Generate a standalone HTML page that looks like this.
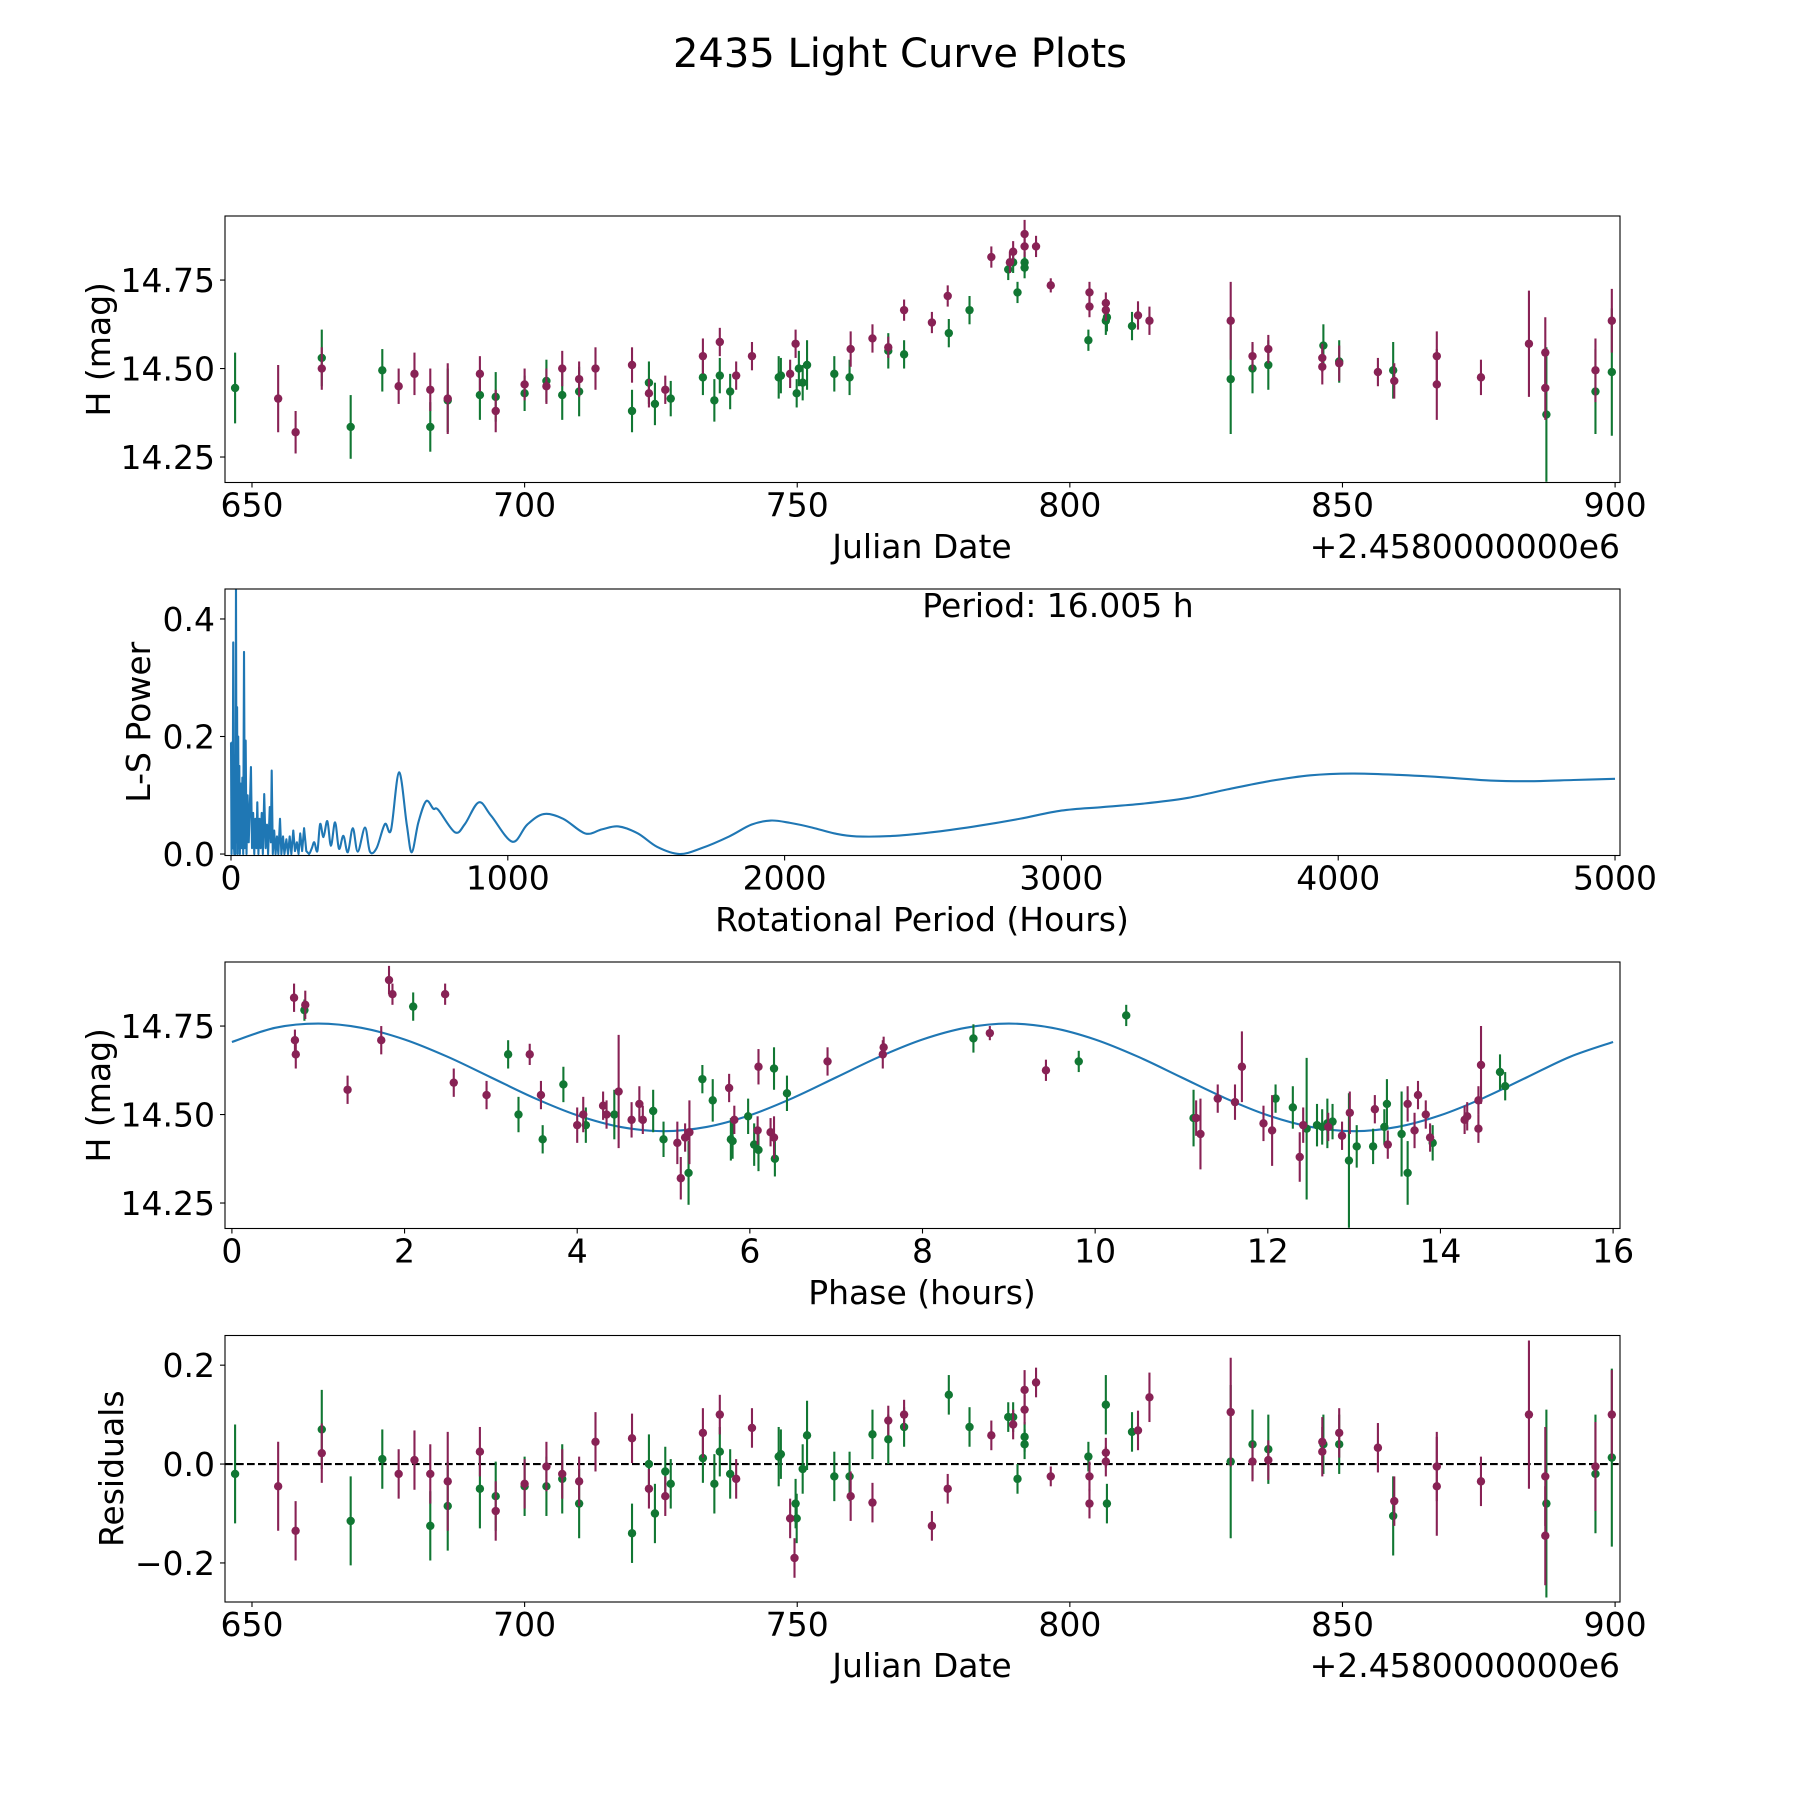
<!DOCTYPE html>
<html><head><meta charset="utf-8"><title>2435 Light Curve Plots</title>
<style>
html,body{margin:0;padding:0;background:#fff;}
svg{display:block;font-family:"DejaVu Sans","Liberation Sans",sans-serif;}
</style></head>
<body>
<svg id="fig" width="1800" height="1800" viewBox="0 0 1800 1800" xmlns="http://www.w3.org/2000/svg">
<rect width="1800" height="1800" fill="#fff"/>
<text x="900" y="67" font-size="40" text-anchor="middle">2435 Light Curve Plots</text>
<g id="p1"></g>
<g id="p2"></g>
<g id="p3"></g>
<g id="p4"></g>
</svg>
<script>
// ---- Panel 1: light curve (Julian date offset, H mag, error) ----
const lcGreenJD = [646.9,662.8,668.1,673.9,682.7,685.9,691.8,694.7,700.0,704.0,706.9,710.0,719.7,722.8,723.9,726.8,732.7,734.8,735.8,737.7,746.6,747.0,749.9,750.3,751.0,751.8,756.8,759.6,766.7,769.6,777.8,781.6,788.7,789.6,790.4,791.7,791.7,803.4,806.6,806.8,811.4,829.5,833.5,836.4,846.5,849.4,859.3,887.4,896.4,899.4];
const lcGreenMag = [14.445,14.53,14.335,14.495,14.335,14.41,14.425,14.42,14.43,14.465,14.425,14.435,14.38,14.46,14.40,14.415,14.475,14.41,14.48,14.435,14.475,14.48,14.43,14.50,14.46,14.51,14.485,14.475,14.55,14.54,14.60,14.665,14.78,14.80,14.715,14.80,14.785,14.58,14.635,14.645,14.62,14.47,14.50,14.51,14.565,14.52,14.495,14.37,14.435,14.49];
const lcGreenErr = [0.1,0.08,0.09,0.06,0.07,0.09,0.07,0.07,0.05,0.06,0.07,0.07,0.06,0.06,0.06,0.05,0.05,0.06,0.05,0.05,0.06,0.05,0.04,0.05,0.05,0.07,0.05,0.05,0.05,0.04,0.04,0.04,0.03,0.03,0.03,0.03,0.03,0.03,0.04,0.04,0.04,0.155,0.07,0.07,0.06,0.06,0.08,0.19,0.12,0.18];
const lcMagJD = [654.8,658.0,662.8,676.9,679.8,682.7,685.9,691.8,694.7,700.0,704.0,706.9,710.0,713.0,719.7,722.8,725.8,732.7,735.8,738.8,741.7,748.7,749.7,759.8,763.8,766.7,769.6,774.7,777.6,785.6,789.0,789.6,791.7,791.7,793.8,796.5,803.6,803.6,806.6,806.6,812.5,814.6,829.5,833.5,836.4,846.3,846.3,849.4,856.5,859.5,867.3,867.3,875.4,884.2,887.2,887.2,896.4,899.4];
const lcMagMag = [14.415,14.32,14.50,14.45,14.485,14.44,14.415,14.485,14.38,14.455,14.45,14.50,14.47,14.50,14.51,14.43,14.44,14.535,14.575,14.48,14.535,14.485,14.57,14.555,14.585,14.56,14.665,14.63,14.705,14.815,14.80,14.83,14.88,14.845,14.845,14.735,14.715,14.675,14.685,14.665,14.65,14.635,14.635,14.535,14.555,14.53,14.505,14.515,14.49,14.465,14.535,14.455,14.475,14.57,14.545,14.445,14.495,14.635];
const lcMagErr = [0.095,0.06,0.06,0.05,0.06,0.06,0.1,0.05,0.06,0.045,0.05,0.05,0.05,0.06,0.05,0.04,0.04,0.05,0.04,0.04,0.04,0.04,0.04,0.05,0.04,0.03,0.03,0.03,0.03,0.03,0.03,0.03,0.04,0.03,0.03,0.02,0.03,0.03,0.03,0.03,0.04,0.04,0.11,0.04,0.04,0.04,0.05,0.05,0.04,0.05,0.07,0.1,0.05,0.15,0.1,0.09,0.09,0.09];
const jdTicks = [650,700,750,800,850,900];
const magTicks = [14.25,14.50,14.75];
const magTickLabels = ["14.25","14.50","14.75"];

// ---- Panel 2: Lomb-Scargle periodogram ----
const lsPeriod = [0,2,4,6,8,10,12,14,16,18,20,22,24,26,28,30,32,35,38,41,44,47,50,53,56,60,64,68,72,76,80,84,88,92,95,99,103,107,111,115,120,125,130,134,140,144,147,151,156,161,166,171,177,182,188,193,200,206,212,218,225,231,238,244,250,257,264,272,282,292,301,312,322,334,348,361,376,390,406,422,440,458,484,502,526,556,578,607,635,653,677,705,731,749,809,845,895,940,1016,1070,1130,1200,1280,1340,1400,1470,1540,1620,1700,1800,1880,1950,2020,2100,2180,2260,2400,2550,2700,2850,3000,3150,3300,3450,3600,3750,3900,4050,4200,4400,4550,4700,4850,5000];
const lsPower = [0.19,0.0,0.19,0.01,0.36,0.02,0.0,0.1,0.0,0.46,0.02,0.25,0.0,0.2,0.01,0.15,0.0,0.12,0.01,0.13,0.0,0.344,0.01,0.193,0.0,0.1,0.02,0.08,0.148,0.01,0.07,0.0,0.06,0.01,0.088,0.0,0.06,0.01,0.07,0.0,0.102,0.01,0.05,0.0,0.08,0.02,0.142,0.0,0.04,0.0,0.03,0.0,0.06,0.0,0.03,0.0,0.025,0.0,0.03,0.0,0.04,0.005,0.02,0.0,0.035,0.005,0.044,0.005,0.0,0.01,0.02,0.005,0.051,0.029,0.056,0.014,0.054,0.009,0.031,0.003,0.044,0.004,0.045,0.004,0.01,0.051,0.041,0.139,0.05,0.003,0.054,0.09,0.077,0.075,0.037,0.051,0.088,0.065,0.021,0.05,0.068,0.06,0.035,0.042,0.047,0.035,0.012,0.0,0.01,0.03,0.05,0.057,0.053,0.045,0.035,0.03,0.031,0.038,0.048,0.06,0.074,0.08,0.086,0.095,0.11,0.124,0.134,0.137,0.135,0.13,0.125,0.124,0.126,0.128,0.133,0.136];
const lsXTicks = [0,1000,2000,3000,4000,5000];
const lsYTicks = [0.0,0.2,0.4];
const lsYTickLabels = ["0.0","0.2","0.4"];

// ---- Panel 3: phased light curve ----
const phGreenX = [0.84,2.1,3.2,3.32,3.6,3.84,4.1,4.43,4.88,5.0,5.29,5.45,5.57,5.78,5.8,5.98,6.05,6.1,6.28,6.29,6.43,8.59,9.81,10.36,11.14,12.09,12.29,12.45,12.57,12.63,12.69,12.75,12.94,13.03,13.22,13.35,13.38,13.55,13.62,13.91,14.69,14.75];
const phGreenMag = [14.795,14.805,14.67,14.5,14.43,14.585,14.47,14.5,14.51,14.43,14.335,14.6,14.54,14.43,14.425,14.495,14.415,14.40,14.63,14.375,14.56,14.715,14.65,14.78,14.49,14.545,14.52,14.46,14.47,14.465,14.475,14.48,14.37,14.41,14.41,14.465,14.53,14.445,14.335,14.42,14.62,14.58];
const phGreenErr = [0.03,0.04,0.04,0.05,0.04,0.05,0.05,0.07,0.06,0.05,0.09,0.04,0.06,0.06,0.05,0.05,0.06,0.06,0.06,0.05,0.05,0.04,0.03,0.03,0.08,0.04,0.06,0.2,0.06,0.05,0.07,0.05,0.19,0.06,0.05,0.05,0.07,0.12,0.09,0.05,0.05,0.04];
const phMagX = [0.72,0.73,0.74,0.85,1.34,1.73,1.82,1.86,2.47,2.57,2.95,3.45,3.58,4.0,4.07,4.3,4.34,4.48,4.63,4.72,4.76,5.16,5.2,5.25,5.3,5.76,5.82,6.1,6.09,6.24,6.28,6.9,7.54,7.55,8.78,9.43,11.17,11.22,11.42,11.62,11.7,11.95,12.05,12.37,12.41,12.7,12.86,12.95,13.24,13.39,13.62,13.7,13.74,13.83,13.88,14.28,14.31,14.44,14.44,14.47];
const phMagMag = [14.83,14.71,14.67,14.81,14.57,14.71,14.88,14.84,14.84,14.59,14.555,14.67,14.555,14.47,14.50,14.525,14.50,14.565,14.485,14.53,14.485,14.42,14.32,14.435,14.45,14.575,14.485,14.635,14.455,14.45,14.435,14.65,14.67,14.69,14.73,14.625,14.49,14.445,14.545,14.535,14.635,14.475,14.455,14.38,14.47,14.465,14.44,14.505,14.515,14.415,14.53,14.455,14.555,14.5,14.435,14.485,14.495,14.46,14.54,14.64];
const phMagErr = [0.04,0.03,0.04,0.04,0.04,0.04,0.04,0.03,0.03,0.04,0.04,0.03,0.04,0.05,0.05,0.04,0.04,0.16,0.05,0.05,0.04,0.06,0.06,0.04,0.09,0.04,0.04,0.05,0.04,0.04,0.06,0.04,0.04,0.03,0.02,0.03,0.05,0.1,0.04,0.05,0.1,0.05,0.1,0.07,0.05,0.04,0.04,0.06,0.04,0.04,0.05,0.05,0.04,0.04,0.04,0.04,0.04,0.04,0.04,0.11];
const modelPhase = [0,0.5,1,1.5,2,2.5,3,3.5,4,4.5,5,5.5,6,6.5,7,7.5,8,8.5,9,9.5,10,10.5,11,11.5,12,12.5,13,13.5,14,14.5,15,15.5,16];
const modelMag = [14.705,14.745,14.757,14.745,14.712,14.663,14.605,14.547,14.498,14.465,14.453,14.465,14.498,14.547,14.605,14.663,14.712,14.745,14.757,14.745,14.712,14.663,14.605,14.547,14.498,14.465,14.453,14.465,14.498,14.547,14.605,14.663,14.705];
const phTicks = [0,2,4,6,8,10,12,14,16];

// ---- Panel 4: residuals ----
const resGreenJD = [646.9,662.8,668.1,673.9,682.7,685.9,691.8,694.7,700.0,704.0,706.9,710.0,719.7,722.8,723.9,725.8,726.8,732.7,734.8,735.8,737.7,746.6,747.0,749.7,749.9,751.0,751.8,756.8,759.6,763.8,766.7,769.6,777.8,781.6,788.7,789.6,790.4,791.7,791.7,803.4,806.6,806.8,811.4,829.5,833.5,836.4,846.5,849.4,859.3,887.4,896.4,899.4];
const resGreenVal = [-0.02,0.07,-0.115,0.01,-0.125,-0.085,-0.05,-0.065,-0.045,-0.045,-0.03,-0.08,-0.14,0.0,-0.1,-0.015,-0.04,0.012,-0.04,0.025,-0.02,0.015,0.02,-0.08,-0.11,-0.01,0.058,-0.025,-0.025,0.06,0.05,0.075,0.14,0.075,0.095,0.095,-0.03,0.055,0.04,0.015,0.12,-0.08,0.065,0.005,0.04,0.03,0.04,0.04,-0.105,-0.08,-0.02,0.013];
const resGreenErr = [0.1,0.08,0.09,0.06,0.07,0.09,0.08,0.07,0.06,0.06,0.07,0.07,0.06,0.06,0.06,0.05,0.05,0.05,0.06,0.05,0.05,0.06,0.05,0.05,0.05,0.05,0.07,0.05,0.05,0.05,0.05,0.04,0.04,0.04,0.03,0.03,0.03,0.03,0.03,0.03,0.06,0.04,0.04,0.155,0.07,0.07,0.06,0.06,0.08,0.19,0.12,0.18];
const resMagJD = [654.8,658.0,662.8,676.9,679.8,682.7,685.9,691.8,694.7,700.0,704.0,706.9,710.0,713.0,719.7,722.8,725.8,732.7,735.8,738.8,741.7,748.7,749.5,759.8,763.8,766.7,769.6,774.7,777.6,785.6,789.6,791.7,791.7,793.8,796.5,803.6,803.6,806.6,806.6,812.5,814.6,829.5,833.5,836.4,846.3,846.3,849.4,856.5,859.5,867.3,867.3,875.4,884.2,887.2,887.2,896.4,899.4];
const resMagVal = [-0.045,-0.135,0.022,-0.02,0.008,-0.02,-0.035,0.025,-0.095,-0.04,-0.005,-0.02,-0.035,0.045,0.052,-0.05,-0.065,0.063,0.1,-0.03,0.073,-0.11,-0.19,-0.065,-0.078,0.088,0.1,-0.125,-0.05,0.058,0.08,0.15,0.11,0.165,-0.025,-0.08,-0.025,0.023,0.005,0.068,0.135,0.105,0.005,0.008,0.045,0.025,0.063,0.033,-0.075,-0.005,-0.045,-0.035,0.1,-0.145,-0.025,-0.005,0.1];
const resMagErr = [0.09,0.06,0.06,0.05,0.06,0.06,0.1,0.05,0.06,0.05,0.05,0.05,0.05,0.06,0.05,0.04,0.04,0.05,0.04,0.04,0.04,0.04,0.04,0.05,0.04,0.03,0.03,0.03,0.03,0.03,0.03,0.04,0.03,0.03,0.02,0.03,0.03,0.03,0.03,0.04,0.05,0.11,0.04,0.04,0.05,0.05,0.05,0.05,0.05,0.07,0.1,0.05,0.15,0.1,0.1,0.09,0.09];
const resTicks = [-0.2,0.0,0.2];
const resTickLabels = ["\u22120.2","0.0","0.2"];

const NS = "http://www.w3.org/2000/svg";
const GREEN = "#117733", MAG = "#882255", BLUE = "#1f77b4";
const L = 225, R = 1620, H = 266.5;

function mk(tag, attrs, parent){
  const e = document.createElementNS(NS, tag);
  for (const k in attrs) e.setAttribute(k, attrs[k]);
  parent.appendChild(e);
  return e;
}
function scale(d0,d1,r0,r1){ return v => r0 + (v-d0)/(d1-d0)*(r1-r0); }

function axes(g, top, xlim, ylim){
  const sx = scale(xlim[0], xlim[1], L, R);
  const sy = scale(ylim[0], ylim[1], top+H, top);
  return {sx, sy, top, bottom: top+H};
}
function frame(g, ax){
  const r = mk('rect', {x:L, y:ax.top, width:R-L, height:H, fill:'none', stroke:'#000', 'stroke-width':1.1}, g);
  
  
}
function xTicks(g, ax, vals, labels){
  const grp = mk('g', {}, g);
  
  
  vals.forEach((v,i) => {
    const x = ax.sx(v);
    mk('line', {x1:x, x2:x, y1:ax.bottom, y2:ax.bottom+5, stroke:'#000', 'stroke-width':1.1}, grp);
    const t = mk('text', {x:x, y:ax.bottom+34, 'font-size':33, 'text-anchor':'middle'}, grp);
    
    
    t.textContent = labels ? labels[i] : String(v);
  });
}
function yTicks(g, ax, vals, labels){
  const grp = mk('g', {}, g);
  
  
  vals.forEach((v,i) => {
    const y = ax.sy(v);
    mk('line', {x1:L-5, x2:L, y1:y, y2:y, stroke:'#000', 'stroke-width':1.1}, grp);
    const t = mk('text', {x:L-10, y:y+12, 'font-size':33, 'text-anchor':'end'}, grp);
    
    
    t.textContent = labels[i];
  });
}
function label(g, txt, x, y, rot, name, anchor){
  const t = mk('text', {x:x, y:y, 'font-size':33, 'text-anchor':anchor||'middle'}, g);
  if (rot) t.setAttribute('transform', 'rotate(-90 '+x+' '+y+')');
  
  
  t.textContent = txt;
}
function errPoints(g, ax, xs, ys, es, color, name){
  const grp = mk('g', {}, g);
  
  
  xs.forEach((xv,i) => {
    const x = ax.sx(xv);
    const ln = mk('line', {x1:x, x2:x, y1:ax.sy(ys[i]-es[i]), y2:ax.sy(ys[i]+es[i]), stroke:color, 'stroke-width':2.1}, grp);
    
    
    const c = mk('circle', {cx:x, cy:ax.sy(ys[i]), r:4.2, fill:color}, grp);
    
    
  });
}
function clip(id, ax){
  const cp = mk('clipPath', {id:id}, document.getElementById('fig'));
  mk('rect', {x:L, y:ax.top, width:R-L, height:H}, cp);
  return 'url(#'+id+')';
}
function crSeg(pts, i){
  const p0 = pts[Math.max(0,i-1)], p1 = pts[i], p2 = pts[i+1], p3 = pts[Math.min(pts.length-1,i+2)];
  const c1x = p1[0]+(p2[0]-p0[0])/6, c1y = p1[1]+(p2[1]-p0[1])/6;
  const c2x = p2[0]-(p3[0]-p1[0])/6, c2y = p2[1]-(p3[1]-p1[1])/6;
  return 'C'+c1x.toFixed(2)+' '+c1y.toFixed(2)+' '+c2x.toFixed(2)+' '+c2y.toFixed(2)+' '+p2[0].toFixed(2)+' '+p2[1].toFixed(2);
}

// Panel 1
(function(){
  const g = document.getElementById('p1');
  const ax = axes(g, 216, [645.05, 900.9], [14.178, 14.931]);
  const inner = mk('g', {'clip-path': clip('c1', ax)}, g);
  errPoints(inner, ax, lcGreenJD, lcGreenMag, lcGreenErr, GREEN, 'green-series');
  errPoints(inner, ax, lcMagJD, lcMagMag, lcMagErr, MAG, 'magenta-series');
  frame(g, ax);
  xTicks(g, ax, jdTicks);
  yTicks(g, ax, magTicks, magTickLabels);
  label(g, 'Julian Date', 922, 558, false, 'x-axis-title');
  label(g, '+2.4580000000e6', 1620, 558, false, 'x-axis-offset', 'end');
  label(g, 'H (mag)', 110, ax.top+H/2, true, 'y-axis-title');
})();

// Panel 2
(function(){
  const g = document.getElementById('p2');
  const ax = axes(g, 589, [-21.7, 5018], [-0.0025, 0.451]);
  const inner = mk('g', {'clip-path': clip('c2', ax)}, g);
  const pts = lsPeriod.map((p,i) => [ax.sx(p), ax.sy(lsPower[i])]);
  let d = 'M' + pts[0][0].toFixed(2) + ' ' + pts[0][1].toFixed(2);
  for (let i=0;i<pts.length-1;i++){
    if (lsPeriod[i] < 282) d += 'L' + pts[i+1][0].toFixed(2) + ' ' + pts[i+1][1].toFixed(2);
    else d += crSeg(pts, i);
  }
  const path = mk('path', {d:d, fill:'none', stroke:BLUE, 'stroke-width':2.1, 'stroke-linejoin':'round'}, inner);
  
  
  frame(g, ax);
  xTicks(g, ax, lsXTicks);
  yTicks(g, ax, lsYTicks, lsYTickLabels);
  label(g, 'Rotational Period (Hours)', 922, 931, false, 'x-axis-title');
  label(g, 'L-S Power', 150, ax.top+H/2, true, 'y-axis-title');
  label(g, 'Period: 16.005 h', 1058, 617, false, 'period-annotation');
})();

// Panel 3
(function(){
  const g = document.getElementById('p3');
  const ax = axes(g, 962, [-0.08, 16.08], [14.178, 14.931]);
  const inner = mk('g', {'clip-path': clip('c3', ax)}, g);
  const pts = modelPhase.map((p,i) => [ax.sx(p), ax.sy(modelMag[i])]);
  let d = 'M' + pts[0][0] + ' ' + pts[0][1];
  for (let i=0;i<pts.length-1;i++) d += crSeg(pts, i);
  const path = mk('path', {d:d, fill:'none', stroke:BLUE, 'stroke-width':2.1}, inner);
  
  
  errPoints(inner, ax, phGreenX, phGreenMag, phGreenErr, GREEN, 'green-series');
  errPoints(inner, ax, phMagX, phMagMag, phMagErr, MAG, 'magenta-series');
  frame(g, ax);
  xTicks(g, ax, phTicks);
  yTicks(g, ax, magTicks, magTickLabels);
  label(g, 'Phase (hours)', 922, 1304, false, 'x-axis-title');
  label(g, 'H (mag)', 110, ax.top+H/2, true, 'y-axis-title');
})();

// Panel 4
(function(){
  const g = document.getElementById('p4');
  const ax = axes(g, 1335.5, [645.05, 900.9], [-0.279, 0.26]);
  const inner = mk('g', {'clip-path': clip('c4', ax)}, g);
  const zl = mk('line', {x1:L, x2:R, y1:ax.sy(0), y2:ax.sy(0), stroke:'#000', 'stroke-width':2.1, 'stroke-dasharray':'7.7 3.3'}, inner);
  
  
  errPoints(inner, ax, resGreenJD, resGreenVal, resGreenErr, GREEN, 'green-series');
  errPoints(inner, ax, resMagJD, resMagVal, resMagErr, MAG, 'magenta-series');
  frame(g, ax);
  xTicks(g, ax, jdTicks);
  yTicks(g, ax, resTicks, resTickLabels);
  label(g, 'Julian Date', 922, 1677, false, 'x-axis-title');
  label(g, '+2.4580000000e6', 1620, 1677, false, 'x-axis-offset', 'end');
  label(g, 'Residuals', 123, ax.top+H/2, true, 'y-axis-title');
})();
</script>
</body></html>
